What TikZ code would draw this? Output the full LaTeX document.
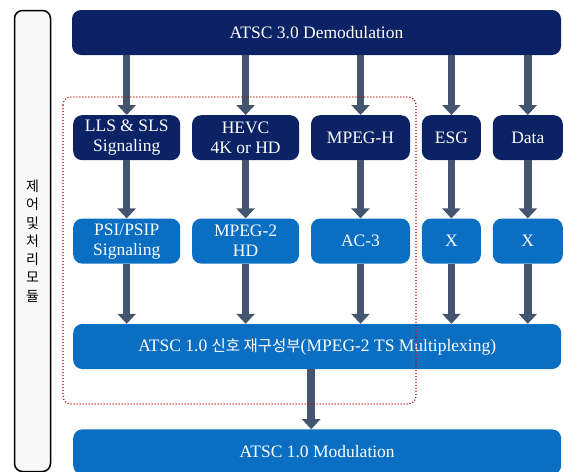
\documentclass[tikz,border=0pt]{standalone}
\usepackage{fontspec}
\setmainfont{Liberation Serif}
\newfontfamily\krfont{Noto Sans CJK KR}
\usetikzlibrary{positioning,arrows.meta}
\definecolor{navy}{HTML}{0B2265}
\definecolor{midblue}{HTML}{0A6EC2}
\definecolor{shaftgrey}{HTML}{46556F}
\definecolor{dotred}{HTML}{C00000}
\definecolor{panelgrey}{HTML}{F8F8F8}

\begin{document}
\begin{tikzpicture}[
  x=1pt, y=-1pt,
  node distance=58pt and 11.5pt,
  box/.style={rounded corners=9pt, align=center, text=white, font=\fontsize{17.5}{20}\selectfont, inner sep=2pt, minimum height=45pt},
  darkbox/.style={box, fill=navy},
  lightbox/.style={box, fill=midblue},
  arr/.style={-{Triangle[width=18pt,length=10pt]}, line width=7.5pt, draw=shaftgrey}
]
\useasboundingbox (0,0) rectangle (564,471);
\node[draw, line width=1.5pt, rounded corners=8pt, fill=panelgrey, minimum width=36pt, minimum height=461pt, align=center, font=\krfont\fontsize{14}{18.3}\selectfont] (ctrl) at (32.5,241) {제\\어\\및\\처\\리\\모\\듈};
\node[darkbox, minimum width=489pt] (demod) at (316.5,32.5) {ATSC 3.0 Demodulation};
\node[darkbox, minimum width=107pt, anchor=north west] (lls) at (73,115) {LLS \& SLS\\Signaling};
\node[darkbox, minimum width=107pt, right=of lls] (hevc) {HEVC\\4K or HD};
\node[darkbox, minimum width=99pt, right=of hevc] (mpegh) {MPEG-H};
\node[darkbox, minimum width=59pt, right=of mpegh] (esg) {ESG};
\node[darkbox, minimum width=70pt, right=of esg] (data) {Data};
\node[lightbox, minimum width=107pt, below=of lls] (psi) {PSI/PSIP\\Signaling};
\node[lightbox, minimum width=107pt, below=of hevc] (mpegtwo) {MPEG-2\\HD};
\node[lightbox, minimum width=99pt, below=of mpegh] (ac) {AC-3};
\node[lightbox, minimum width=59pt, below=of esg] (xesg) {X};
\node[lightbox, minimum width=70pt, below=of data] (xdata) {X};
\node[lightbox, minimum width=488pt, below=60pt of psi.south west, anchor=north west] (mux) {ATSC 1.0 {\krfont\fontsize{15.5}{20}\selectfont 신호 재구성부}(MPEG-2 TS Multiplexing)};
\node[lightbox, minimum width=488pt, below=60pt of mux] (mod) {ATSC 1.0 Modulation};
\draw[arr] (lls.north |- demod.south) -- (lls.north);
\draw[arr] (hevc.north |- demod.south) -- (hevc.north);
\draw[arr] (mpegh.north |- demod.south) -- (mpegh.north);
\draw[arr] (esg.north |- demod.south) -- (esg.north);
\draw[arr] (data.north |- demod.south) -- (data.north);
\draw[arr] (lls) -- (psi);
\draw[arr] (hevc) -- (mpegtwo);
\draw[arr] (mpegh) -- (ac);
\draw[arr] (esg) -- (xesg);
\draw[arr] (data) -- (xdata);
\draw[arr] (psi) -- (psi |- mux.north);
\draw[arr] (mpegtwo) -- (mpegtwo |- mux.north);
\draw[arr] (ac) -- (ac |- mux.north);
\draw[arr] (xesg) -- (xesg |- mux.north);
\draw[arr] (xdata) -- (xdata |- mux.north);
\draw[arr] ([xshift=-6pt]mux.south) -- ([xshift=-6pt]mod.north);
\draw[dotred, line width=1.1pt, dash pattern=on 1.1pt off 1.9pt, rounded corners=8pt] (63,97) rectangle (416,404);
\end{tikzpicture}
\end{document}
